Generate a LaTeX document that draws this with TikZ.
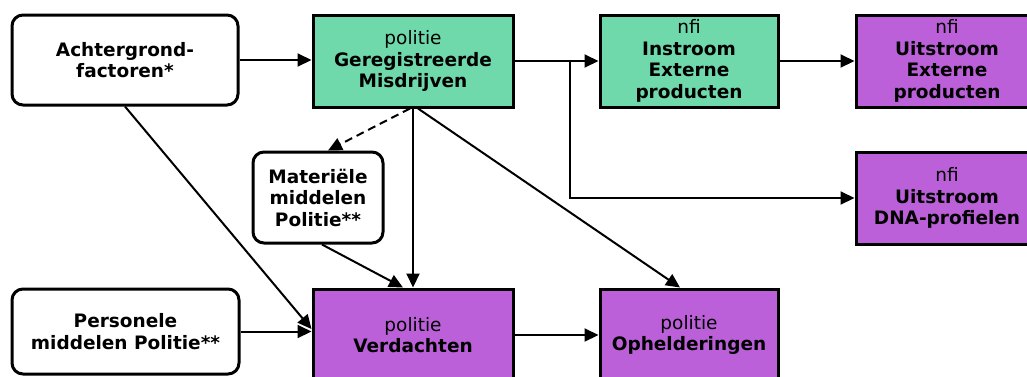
\documentclass[tikz,border=0pt]{standalone}
\usepackage{fontspec}
\setmainfont{DejaVu Sans}
\usetikzlibrary{arrows.meta,calc}

\definecolor{groen}{RGB}{111,217,172}
\definecolor{paars}{RGB}{188,96,218}

\tikzset{
	blok/.style={draw=black, line width=3pt, align=center, inner sep=0pt,
		minimum height=92pt, font=\fontsize{18.5}{21.5}\selectfont},
	rondblok/.style={blok, rounded corners=11pt, fill=white},
	pijl/.style={line width=2pt, -{Triangle[length=14pt,width=13pt]}},
}

\begin{document}
\begin{tikzpicture}[x=1pt,y=-1pt]
		\useasboundingbox (0,0) rectangle (1027,376);
		\clip (0,0) rectangle (1027,376);
		
		% witte blokken
		\node[rondblok, minimum width=226pt, minimum height=90pt] (acht) at (125,60) {\textbf{Achtergrond-}\\\textbf{factoren*}};
		\node[rondblok, minimum width=130pt, minimum height=91pt] (mat) at (318,197.5) {\textbf{Materiële}\\\textbf{middelen}\\\textbf{Politie**}};
		\node[rondblok, minimum width=227pt, minimum height=85pt] (pers) at (125.5,331.5) {\textbf{Personele}\\\textbf{middelen Politie**}};
		
		% groene blokken
		\node[blok, fill=groen, minimum width=200pt] (ger) at (413,61) {politie\\\textbf{Geregistreerde}\\\textbf{Misdrijven}};
		\node[blok, fill=groen, minimum width=178pt] (inst) at (689,61) {nfi\\\textbf{Instroom}\\\textbf{Externe}\\\textbf{producten}};
		
		% paarse blokken
		\node[blok, fill=paars, minimum width=182pt] (uitext) at (947,61) {nfi\\\textbf{Uitstroom}\\\textbf{Externe}\\\textbf{producten}};
		\node[blok, fill=paars, minimum width=182pt] (dna) at (947,198) {nfi\\\textbf{Uitstroom}\\\textbf{DNA-profielen}};
		\node[blok, fill=paars, minimum width=200pt] (verd) at (413,335) {politie\\\textbf{Verdachten}};
		\node[blok, fill=paars, minimum width=178pt] (oph) at (689,335) {politie\\\textbf{Ophelderingen}};
		
		\coordinate (tak) at (570,61);
		
		% pijlen
		\draw[pijl] (acht.east) -- (acht.east -| ger.west);
		\draw[pijl] (ger.east) -- (inst.west);
		\draw[pijl] (inst.east) -- (uitext.west);
		\draw[pijl] (tak) |- (dna.west);
		\draw[pijl, dash pattern=on 8pt off 5pt] ($(ger.south)+(-3,0)$) -- ($(mat.north)+(10,0)$);
		\draw[pijl] (ger.south) -- (verd.north);
		\draw[pijl] ($(ger.south)+(5,0)$) -- ($(oph.north)+(-9,0)$);
		\draw[pijl] (acht.south) -- ($(verd.west)+(0,-6)$);
		\draw[pijl] ($(mat.south)+(4,0)$) -- ($(verd.north)+(-10,0)$);
		\draw[pijl] (pers.east) -- (pers.east -| verd.west);
		\draw[pijl] (verd.east) -- (oph.west);
	\end{tikzpicture}
\end{document}
